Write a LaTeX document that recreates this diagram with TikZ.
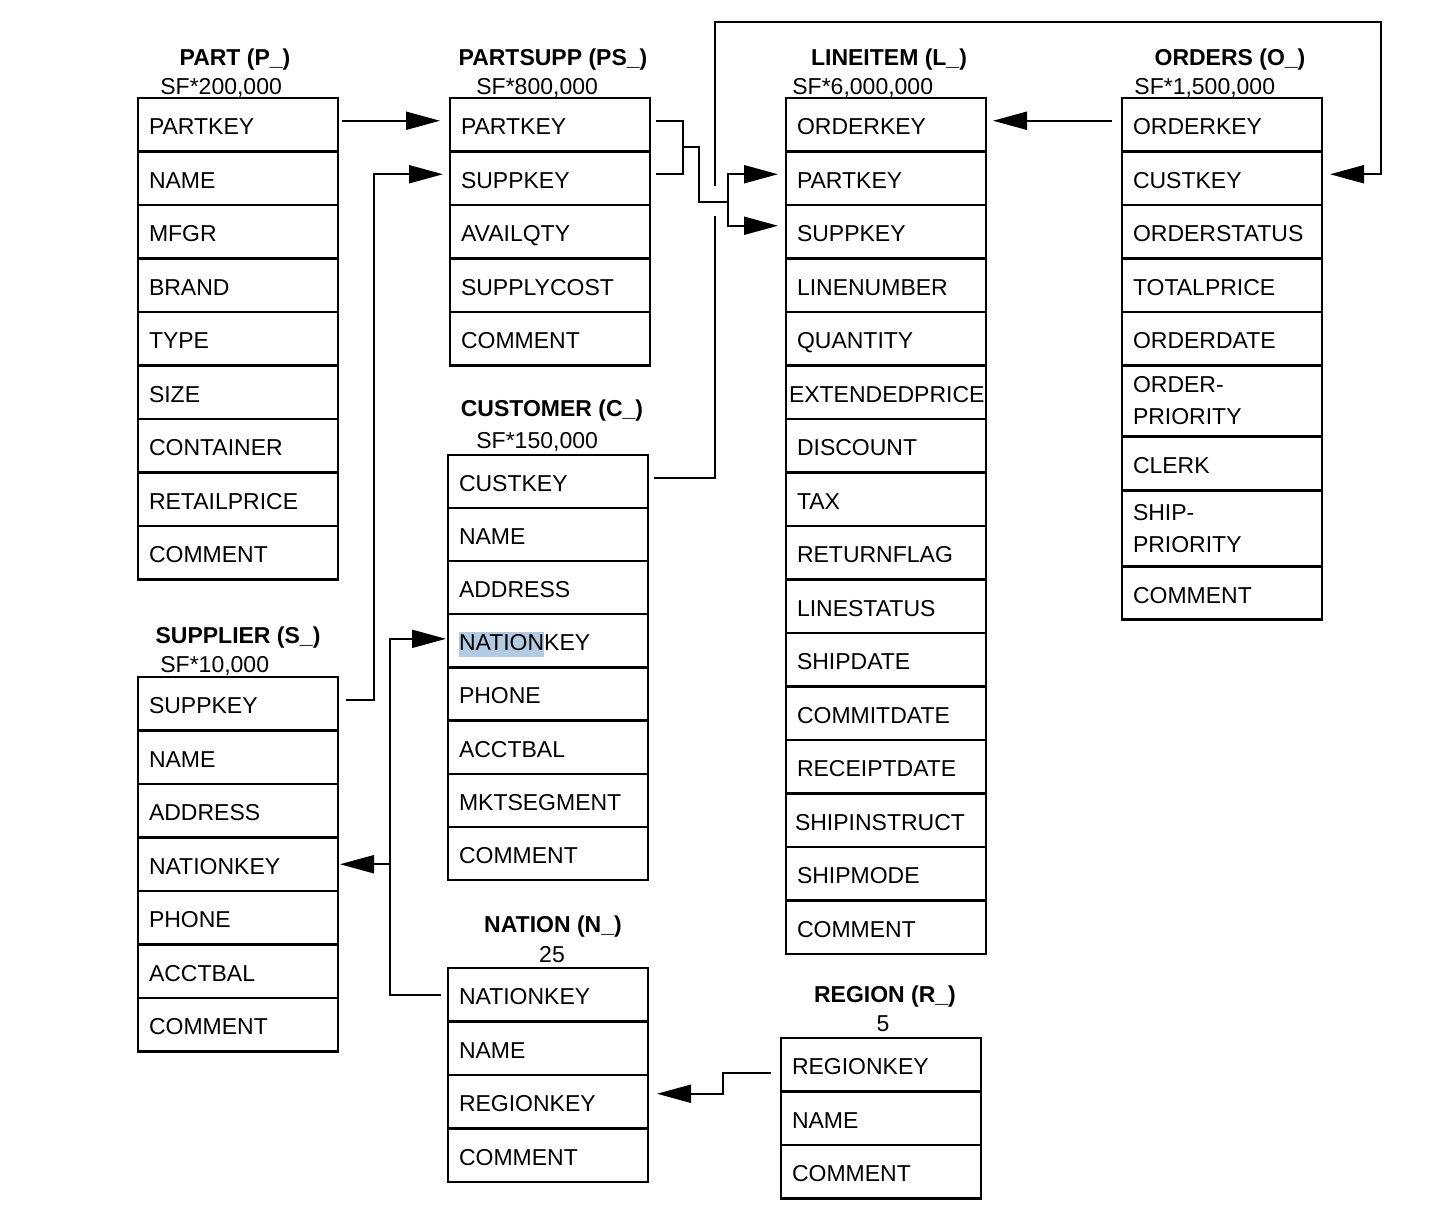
\documentclass[tikz,border=0pt]{standalone}
\usepackage{fontspec}
\setmainfont{Liberation Sans}
\usetikzlibrary{positioning,calc,arrows.meta}
\definecolor{selblue}{RGB}{178,203,226}
\newcommand\selmark[1]{{\setlength\fboxsep{0pt}\colorbox{selblue}{\rule[-3pt]{0pt}{12.5pt}#1}}}

\tikzset{
  tallfield/.style={draw, line width=1.1pt, outer sep=0pt, minimum height=26.75pt,
    text width=89pt, inner xsep=5.5pt, inner ysep=0pt, align=left,
    font=\fontsize{11.5}{16}\selectfont},
  field/.style={tallfield, execute at begin node={\rule[-3pt]{0pt}{16pt}}},
  tabname/.style={inner sep=0pt, font=\fontsize{11.5}{14}\selectfont\bfseries},
  tabsize/.style={inner sep=0pt, font=\fontsize{11.5}{14}\selectfont},
  link/.style={line width=1pt},
  fk/.style={link, -{Triangle[length=17pt,width=9pt]}},
}

\begin{document}
\begin{tikzpicture}[x=0.5pt, y=-0.5pt]
  \useasboundingbox (0,0) rectangle (1430,1230);

  % PART
  \node[tabname] (p-title) at (235,60) {PART (P\_)};
  \node[tabsize, anchor=west] (p-sf) at (160,88) {SF*200,000};
  \node[field, anchor=north west] (p-partkey) at (138,98) {PARTKEY};
  \foreach \fld/\lbl [remember=\fld as \prev (initially partkey)] in {name/NAME,
    mfgr/MFGR, brand/BRAND, type/TYPE, size/SIZE, container/CONTAINER,
    retailprice/RETAILPRICE, comment/COMMENT}
    \node[field, below=0pt of p-\prev] (p-\fld) {\lbl};

  % PARTSUPP
  \node[tabname] (ps-title) at (553,60) {PARTSUPP (PS\_)};
  \node[tabsize, anchor=west] (ps-sf) at (476,88) {SF*800,000};
  \node[field, anchor=north west] (ps-partkey) at (450,98) {PARTKEY};
  \foreach \fld/\lbl [remember=\fld as \prev (initially partkey)] in {suppkey/SUPPKEY,
    availqty/AVAILQTY, supplycost/SUPPLYCOST, comment/COMMENT}
    \node[field, below=0pt of ps-\prev] (ps-\fld) {\lbl};

  % LINEITEM
  \node[tabname] (li-title) at (889,60) {LINEITEM (L\_)};
  \node[tabsize, anchor=west] (li-sf) at (792,88) {SF*6,000,000};
  \node[field, anchor=north west] (li-orderkey) at (786,98) {ORDERKEY};
  \foreach \fld/\lbl [remember=\fld as \prev (initially orderkey)] in {partkey/PARTKEY,
    suppkey/SUPPKEY, linenumber/LINENUMBER, quantity/QUANTITY,
    extendedprice/{\hspace*{-4pt}\mbox{EXTENDEDPRICE}}, discount/DISCOUNT, tax/TAX,
    returnflag/RETURNFLAG, linestatus/LINESTATUS, shipdate/SHIPDATE,
    commitdate/COMMITDATE, receiptdate/RECEIPTDATE,
    shipinstruct/{\hspace*{-1pt}SHIPINSTRUCT}, shipmode/SHIPMODE, comment/COMMENT}
    \node[field, below=0pt of li-\prev] (li-\fld) {\lbl};

  % ORDERS
  \node[tabname] (o-title) at (1230,60) {ORDERS (O\_)};
  \node[tabsize, anchor=west] (o-sf) at (1134,88) {SF*1,500,000};
  \node[field, anchor=north west] (o-orderkey) at (1122,98) {ORDERKEY};
  \foreach \fld/\lbl/\rowstyle/\rowh [remember=\fld as \prev (initially orderkey)] in
    {custkey/CUSTKEY/field/26.75pt, orderstatus/ORDERSTATUS/field/26.75pt,
    totalprice/TOTALPRICE/field/26.75pt, orderdate/ORDERDATE/field/26.75pt,
    orderpriority/{ORDER-\\PRIORITY}/tallfield/35.5pt, clerk/CLERK/field/27pt,
    shippriority/{SHIP-\\PRIORITY}/tallfield/38pt, comment/COMMENT/field/26.5pt}
    \node[\rowstyle, minimum height=\rowh, below=0pt of o-\prev] (o-\fld) {\lbl};

  % CUSTOMER
  \node[tabname] (c-title) at (552,411) {CUSTOMER (C\_)};
  \node[tabsize, anchor=west] (c-sf) at (476,442) {SF*150,000};
  \node[field, anchor=north west, minimum height=26.55pt] (c-custkey) at (448,455) {CUSTKEY};
  \foreach \fld/\lbl [remember=\fld as \prev (initially custkey)] in {name/NAME,
    address/ADDRESS, nationkey/{\selmark{NATION}KEY}, phone/PHONE, acctbal/ACCTBAL,
    mktsegment/MKTSEGMENT, comment/COMMENT}
    \node[field, minimum height=26.55pt, below=0pt of c-\prev] (c-\fld) {\lbl};

  % SUPPLIER
  \node[tabname] (s-title) at (238,638) {SUPPLIER (S\_)};
  \node[tabsize, anchor=west] (s-sf) at (160,666) {SF*10,000};
  \node[field, anchor=north west] (s-suppkey) at (138,677) {SUPPKEY};
  \foreach \fld/\lbl [remember=\fld as \prev (initially suppkey)] in {name/NAME,
    address/ADDRESS, nationkey/NATIONKEY, phone/PHONE, acctbal/ACCTBAL,
    comment/COMMENT}
    \node[field, below=0pt of s-\prev] (s-\fld) {\lbl};

  % NATION
  \node[tabname] (n-title) at (553,927) {NATION (N\_)};
  \node[tabsize] (n-sf) at (552,955) {25};
  \node[field, anchor=north west] (n-nationkey) at (448,968) {NATIONKEY};
  \foreach \fld/\lbl [remember=\fld as \prev (initially nationkey)] in {name/NAME,
    regionkey/REGIONKEY, comment/COMMENT}
    \node[field, below=0pt of n-\prev] (n-\fld) {\lbl};

  % REGION
  \node[tabname] (r-title) at (885,997) {REGION (R\_)};
  \node[tabsize] (r-sf) at (883,1024) {5};
  \node[field, anchor=north west] (r-regionkey) at (781,1038) {REGIONKEY};
  \foreach \fld/\lbl [remember=\fld as \prev (initially regionkey)] in {name/NAME,
    comment/COMMENT}
    \node[field, below=0pt of r-\prev] (r-\fld) {\lbl};

  % keys
  \draw[fk] ($(p-partkey.east)+(4,-4)$) -- ($(ps-partkey.west)+(-10,-4)$);
  \draw[fk] ($(s-suppkey.east)+(8,-4)$) -| ($(ps-suppkey.west)+(-76,-4)$)
    -- ($(ps-suppkey.west)+(-7,-4)$);
  \coordinate (psjoin) at ($(ps-partkey.east)!0.5!(ps-suppkey.east)+(33,-4)$);
  \coordinate (lijoin) at ($(li-partkey.west)!0.5!(li-suppkey.west)+(-58,-3)$);
  \draw[link] ($(ps-partkey.east)+(6,-4)$) -| (psjoin) |- ($(ps-suppkey.east)+(6,-4)$);
  \draw[link] (psjoin) -- ++(16,0) |- (lijoin);
  \draw[fk] (lijoin) |- ($(li-partkey.west)+(-8,-4)$);
  \draw[fk] (lijoin) |- ($(li-suppkey.west)+(-8,-6)$);
  \draw[fk] ($(o-orderkey.west)+(-10,-4)$) -- ($(li-orderkey.east)+(7,-4)$);

  % custkey goes over the top, with a gap where it crosses
  \coordinate (ckx) at ($(c-custkey.east)+(67,-4)$);
  \coordinate (toprail) at (0,22);
  \draw[link] ($(c-custkey.east)+(6,-4)$) -- (ckx) -- ($(ckx |- lijoin)+(0,14)$);
  \draw[fk] ($(ckx |- lijoin)+(0,-16)$) -- (ckx |- toprail)
    -| ($(o-custkey.east)+(59,-4)$) -- ($(o-custkey.east)+(8,-4)$);

  \coordinate (nx) at ($(c-nationkey.west)+(-58,-2)$);
  \draw[fk] ($(n-nationkey.west)+(-7,0)$) -| (nx) -- ($(c-nationkey.west)+(-2,-2)$);
  \draw[fk] (nx |- s-nationkey.east) -- ($(s-nationkey.east)+(2,0)$);
  \draw[fk] ($(r-regionkey.west)+(-10,8)$) -- ++(-48,0) |- ($(n-regionkey.east)+(9,-8)$);
\end{tikzpicture}
\end{document}
